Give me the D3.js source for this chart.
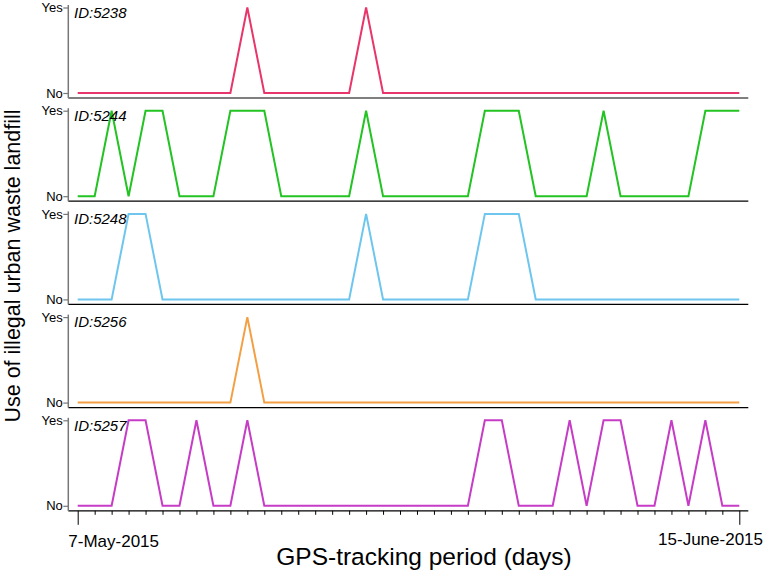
<!DOCTYPE html>
<html>
<head>
<meta charset="utf-8">
<script src="https://cdn.jsdelivr.net/npm/d3@7"></script>
<style>
body{margin:0;background:#fff;}
svg{display:block;font-family:"Liberation Sans",Arial,sans-serif;}
</style>
</head>
<body>
<svg id="chart" width="765" height="574"></svg>
<script>
const days = d3.range(40); // 7-May-2015 .. 15-June-2015
const ids = ["ID:5238","ID:5244","ID:5248","ID:5256","ID:5257"];
const colors = ["#e8356a","#22c322","#6ec6ef","#f3a044","#c63cc6"];
const s5238 = [0,0,0,0,0,0,0,0,0,0,1,0,0,0,0,0,0,1,0,0,0,0,0,0,0,0,0,0,0,0,0,0,0,0,0,0,0,0,0,0];
const s5244 = [0,0,1,0,1,1,0,0,0,1,1,1,0,0,0,0,0,1,0,0,0,0,0,0,1,1,1,0,0,0,0,1,0,0,0,0,0,1,1,1];
const s5248 = [0,0,0,1,1,0,0,0,0,0,0,0,0,0,0,0,0,1,0,0,0,0,0,0,1,1,1,0,0,0,0,0,0,0,0,0,0,0,0,0];
const s5256 = [0,0,0,0,0,0,0,0,0,0,1,0,0,0,0,0,0,0,0,0,0,0,0,0,0,0,0,0,0,0,0,0,0,0,0,0,0,0,0,0];
const s5257 = [0,0,0,1,1,0,0,1,0,0,1,0,0,0,0,0,0,0,0,0,0,0,0,0,1,1,0,0,0,1,0,1,1,0,0,1,0,1,0,0];
const seriesList = [s5238,s5244,s5248,s5256,s5257];
const yLabels = ["No","Yes"];
const xEndLabels = ["7-May-2015","15-June-2015"];

const svg = d3.select("#chart");
const x = d3.scaleLinear().domain([0,39]).range([77.7,739.3]);
const axisLeft = 68.3, axisRight = 748.3;
const pitch = 103.2, firstBottom = 98;

seriesList.forEach((vals,i)=>{
  const bottom = firstBottom + pitch*i;
  const y = d3.scaleLinear().domain([0,1]).range([bottom-5, bottom-90.5]);
  const g = svg.append("g");
  g.append("line").attr("x1",axisLeft).attr("x2",axisRight)
    .attr("y1",bottom).attr("y2",bottom).attr("stroke","#000").attr("stroke-width",1.2);
  const ya = d3.axisLeft(y).tickValues([0,1]).tickFormat(d=>yLabels[d]).tickSize(5).tickSizeOuter(0);
  const ag = g.append("g").attr("transform",`translate(${axisLeft},0)`).call(ya);
  ag.select(".domain").remove();
  ag.append("line").attr("x1",0).attr("x2",0).attr("y1",bottom-93).attr("y2",bottom)
    .attr("stroke","#777").attr("stroke-width",1.5);
  ag.selectAll(".tick line").attr("stroke","#777").attr("stroke-width",1.2);
  ag.selectAll(".tick text").attr("font-size",13).attr("fill","#000")
    .attr("font-family","Liberation Sans, Arial, sans-serif").attr("x",-5.5);
  const line = d3.line().x((d,j)=>x(days[j])).y(d=>y(d));
  g.append("path").datum(vals).attr("d",line).attr("fill","none")
    .attr("stroke",colors[i]).attr("stroke-width",2).attr("stroke-linejoin","miter");
  g.append("text").attr("x",74).attr("y",bottom-80.3).attr("font-size",15)
    .attr("font-style","italic").attr("fill","#000").text(ids[i]);
});

const lastBottom = firstBottom + pitch*4;
const xa = d3.axisBottom(x).tickValues(days).tickSize(4).tickFormat("").tickSizeOuter(0);
const xg = svg.append("g").attr("transform",`translate(0,${lastBottom})`).call(xa);
xg.select(".domain").remove();
xg.selectAll(".tick line").attr("stroke","#000").attr("stroke-width",1)
  .attr("y2",d=>(d===0||d===39)?14:4);
xg.append("text").attr("x",68.3).attr("y",546.5).attr("font-size",17).attr("fill","#000")
  .attr("text-anchor","start").text(xEndLabels[0]);
xg.append("text").attr("x",763).attr("y",545).attr("font-size",17).attr("fill","#000")
  .attr("text-anchor","end").text(xEndLabels[1]);
xg.selectAll("text").attr("transform",`translate(0,${-lastBottom})`);

svg.append("text").attr("x",424).attr("y",565).attr("font-size",24.5).attr("text-anchor","middle")
  .attr("fill","#000").text("GPS-tracking period (days)");
svg.append("text").attr("transform","translate(20,266) rotate(-90)").attr("font-size",21.5)
  .attr("text-anchor","middle").attr("fill","#000").text("Use of illegal urban waste landfill");
</script>
</body>
</html>
